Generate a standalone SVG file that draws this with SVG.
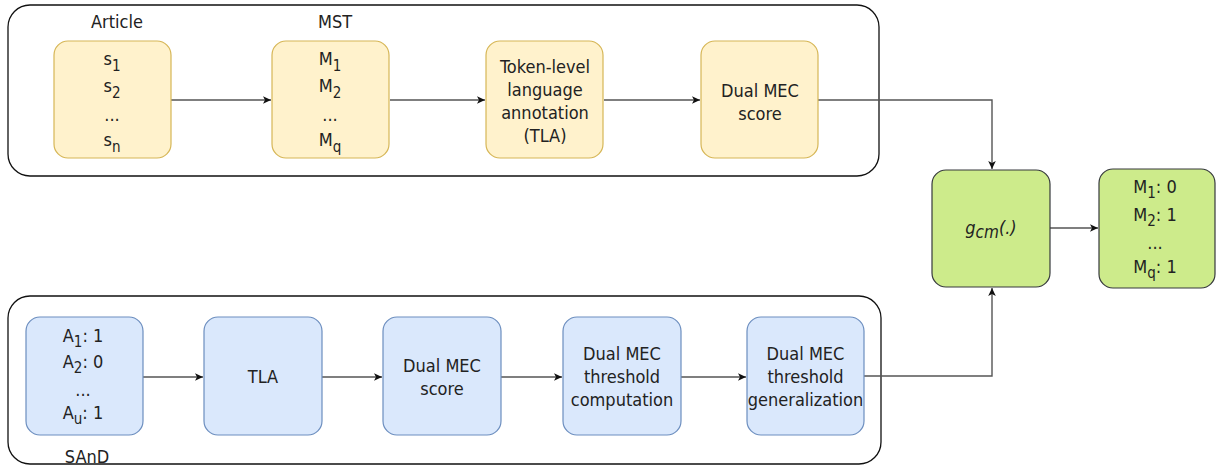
<svg xmlns="http://www.w3.org/2000/svg" width="1217" height="466" viewBox="0 0 1217 466">
<defs>
<marker id="arr" markerWidth="10" markerHeight="10" refX="9" refY="5" orient="auto" markerUnits="userSpaceOnUse">
<path d="M1,1.2 L9,5 L1,8.8 L3,5 Z" fill="#111"/>
</marker>
</defs>
<style>
text{font-family:"DejaVu Sans Condensed","DejaVu Sans",sans-serif;font-size:18px;fill:#222;text-anchor:middle}
.sub{font-size:15px}
.cont{fill:none;stroke:#111;stroke-width:1.3}
.yel{fill:#fff2cc;stroke:#d6b656;stroke-width:1.2}
.blu{fill:#dae8fc;stroke:#6c8ebf;stroke-width:1.2}
.grn{fill:#cdeb8b;stroke:#36393d;stroke-width:1.2}
.edge{fill:none;stroke:#555;stroke-width:1.4;marker-end:url(#arr)}
</style>
<rect class="cont" x="8" y="5" width="871" height="171" rx="22"/>
<rect class="cont" x="8" y="296" width="873" height="168" rx="22"/>
<g id="connectors">
<path class="edge" d="M171,100 H271"/>
<path class="edge" d="M390,100 H485"/>
<path class="edge" d="M604,100 H700"/>
<path class="edge" d="M818,100 H992 V169"/>
<path class="edge" d="M143,377 H203"/>
<path class="edge" d="M322,377 H382"/>
<path class="edge" d="M501,377 H562"/>
<path class="edge" d="M681,377 H746"/>
<path class="edge" d="M864,376 H992 V288"/>
<path class="edge" d="M1050,228 H1098"/>
</g>
<g id="label-article"><text x="117" y="28">Article</text></g>
<g id="label-mst"><text x="335" y="28">MST</text></g>
<g id="label-sand"><text x="87" y="463">SAnD</text></g>
<g id="article">
<rect class="yel" x="54" y="41" width="117" height="117" rx="14"/>
<text x="112" y="65">s<tspan class="sub" dy="6">1</tspan></text>
<text x="112" y="92">s<tspan class="sub" dy="6">2</tspan></text>
<text x="112" y="121">...</text>
<text x="112" y="146">s<tspan class="sub" dy="6">n</tspan></text>
</g>
<g id="mst">
<rect class="yel" x="272" y="41" width="117" height="117" rx="14"/>
<text x="330" y="65">M<tspan class="sub" dy="6">1</tspan></text>
<text x="330" y="92">M<tspan class="sub" dy="6">2</tspan></text>
<text x="330" y="121">...</text>
<text x="330" y="146">M<tspan class="sub" dy="6">q</tspan></text>
</g>
<g id="tla-top">
<rect class="yel" x="486" y="41" width="117" height="117" rx="14"/>
<text x="545" y="73">Token-level</text>
<text x="545" y="96">language</text>
<text x="545" y="119">annotation</text>
<text x="545" y="142">(TLA)</text>
</g>
<g id="mec-top">
<rect class="yel" x="701" y="41" width="117" height="117" rx="14"/>
<text x="760" y="97">Dual MEC</text>
<text x="760" y="120">score</text>
</g>
<g id="gcm">
<rect class="grn" x="932" y="170" width="118" height="117" rx="14"/>
<text x="991" y="234" font-style="italic" font-size="21">g<tspan font-size="17" dy="4">cm</tspan><tspan dy="-4">(.)</tspan></text>
</g>
<g id="output">
<rect class="grn" x="1099" y="169" width="116" height="119" rx="14"/>
<text x="1155" y="193">M<tspan class="sub" dy="5">1</tspan><tspan dy="-5">: 0</tspan></text>
<text x="1155" y="221">M<tspan class="sub" dy="5">2</tspan><tspan dy="-5">: 1</tspan></text>
<text x="1155" y="249">...</text>
<text x="1155" y="273">M<tspan class="sub" dy="5">q</tspan><tspan dy="-5">: 1</tspan></text>
</g>
<g id="sand">
<rect class="blu" x="26" y="317" width="117" height="118" rx="14"/>
<text x="83" y="342">A<tspan class="sub" dy="5">1</tspan><tspan dy="-5">: 1</tspan></text>
<text x="83" y="368">A<tspan class="sub" dy="5">2</tspan><tspan dy="-5">: 0</tspan></text>
<text x="83" y="396">...</text>
<text x="83" y="419">A<tspan class="sub" dy="5">u</tspan><tspan dy="-5">: 1</tspan></text>
</g>
<g id="tla-bottom">
<rect class="blu" x="204" y="317" width="118" height="118" rx="14"/>
<text x="263" y="383">TLA</text>
</g>
<g id="mec-bottom">
<rect class="blu" x="383" y="317" width="118" height="118" rx="14"/>
<text x="442" y="372">Dual MEC</text>
<text x="442" y="395">score</text>
</g>
<g id="threshold-comp">
<rect class="blu" x="563" y="317" width="118" height="118" rx="14"/>
<text x="622" y="360">Dual MEC</text>
<text x="622" y="383">threshold</text>
<text x="622" y="406">computation</text>
</g>
<g id="threshold-gen">
<rect class="blu" x="747" y="317" width="117" height="118" rx="14"/>
<text x="805.5" y="360">Dual MEC</text>
<text x="805.5" y="383">threshold</text>
<text x="805.5" y="406">generalization</text>
</g>
</svg>
